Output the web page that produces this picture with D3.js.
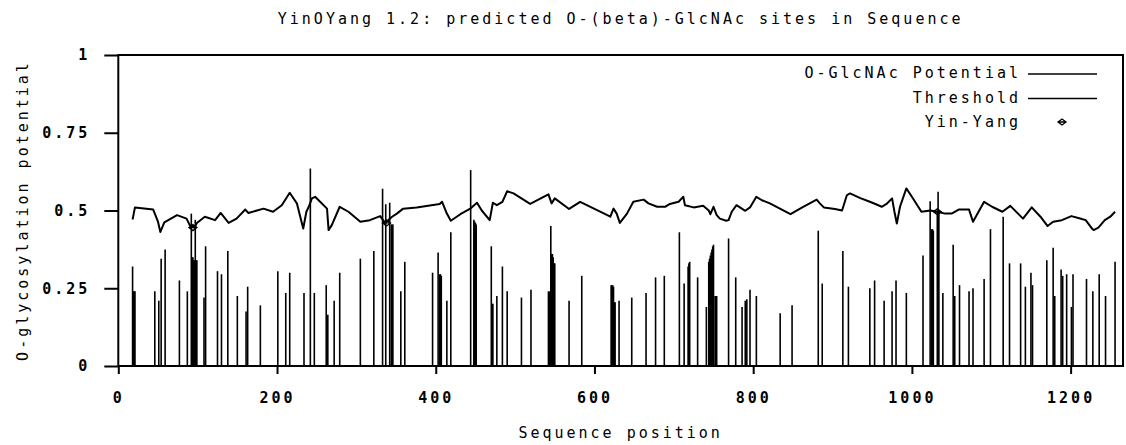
<!DOCTYPE html>
<html>
<head>
<meta charset="utf-8">
<script src="https://cdn.jsdelivr.net/npm/d3@7"></script>
<style>
  body { margin: 0; background: #fff; }
  svg { display: block; }
  text { font-family: "DejaVu Sans Mono", monospace; fill: #000; }
</style>
</head>
<body>
<svg id="chart"></svg>
<script>
// O-GlcNAc potential per site: [sequence position, potential]
const sites = [
  [18, 0.32], [19, 0.24], [20, 0.24], [21, 0.24], [46, 0.24], [51, 0.21], [54, 0.345], [59, 0.375],
  [77, 0.275], [87, 0.24], [92, 0.49], [93, 0.35], [94, 0.35], [95, 0.34], [96, 0.34], [97, 0.47],
  [98, 0.34], [99, 0.34], [108, 0.22], [110, 0.385], [125, 0.305], [130, 0.295], [138, 0.37],
  [150, 0.225], [161, 0.175], [163, 0.255], [179, 0.195], [201, 0.305], [211, 0.235], [216, 0.3],
  [234, 0.235], [242, 0.635], [247, 0.235], [262, 0.26], [264, 0.165], [272, 0.21], [279, 0.3],
  [305, 0.345], [322, 0.37], [333, 0.57], [337, 0.52], [342, 0.525], [344, 0.455], [345, 0.455],
  [346, 0.455], [356, 0.24], [361, 0.335], [396, 0.3], [403, 0.365], [405, 0.295], [406, 0.295],
  [407, 0.29], [414, 0.21], [419, 0.43], [444, 0.63], [448, 0.47], [449, 0.465], [450, 0.46],
  [451, 0.455], [470, 0.385], [471, 0.2], [472, 0.2], [477, 0.225], [484, 0.32], [490, 0.24],
  [508, 0.22], [520, 0.245], [542, 0.24], [543, 0.24], [545, 0.45], [546, 0.36], [547, 0.36],
  [548, 0.35], [549, 0.33], [550, 0.33], [568, 0.21], [584, 0.29], [621, 0.26], [622, 0.26],
  [623, 0.26], [624, 0.255], [625, 0.205], [626, 0.205], [631, 0.21], [647, 0.22], [665, 0.235],
  [677, 0.285], [688, 0.29], [707, 0.43], [713, 0.265], [718, 0.32], [719, 0.33], [720, 0.335],
  [730, 0.285], [741, 0.19], [744, 0.335], [745, 0.345], [746, 0.355], [747, 0.365], [748, 0.375],
  [749, 0.385], [750, 0.39], [752, 0.225], [753, 0.225], [754, 0.225], [769, 0.41], [778, 0.285],
  [786, 0.19], [790, 0.21], [792, 0.215], [796, 0.245], [804, 0.225], [834, 0.17], [849, 0.195],
  [882, 0.435], [887, 0.265], [913, 0.37], [920, 0.255], [947, 0.25], [953, 0.275], [965, 0.21],
  [975, 0.24], [980, 0.275], [993, 0.235], [1014, 0.355], [1023, 0.53], [1025, 0.44], [1026, 0.44],
  [1027, 0.435], [1032, 0.5], [1033, 0.56], [1034, 0.5], [1039, 0.235], [1052, 0.39], [1054, 0.225],
  [1060, 0.26], [1072, 0.24], [1077, 0.25], [1091, 0.28], [1099, 0.44], [1115, 0.48], [1123, 0.33],
  [1137, 0.33], [1143, 0.255], [1150, 0.3], [1152, 0.26], [1170, 0.34], [1178, 0.38], [1180, 0.225],
  [1188, 0.31], [1190, 0.29], [1195, 0.295], [1201, 0.19], [1203, 0.295], [1220, 0.28], [1228, 0.24],
  [1236, 0.295], [1244, 0.225], [1256, 0.335]
];

// threshold curve: [sequence position, threshold]
const threshold = [
  [18, 0.471], [21, 0.51], [44, 0.503], [50, 0.464], [53, 0.431], [58, 0.462], [74, 0.485], [86, 0.474],
  [90, 0.453], [96, 0.445], [99, 0.46], [109, 0.48], [122, 0.469], [129, 0.492], [139, 0.46], [149, 0.474],
  [160, 0.503], [164, 0.492], [183, 0.506], [195, 0.496], [206, 0.517], [216, 0.557], [225, 0.523],
  [233, 0.442], [237, 0.496], [240, 0.512], [244, 0.539], [248, 0.544], [263, 0.506], [265, 0.437],
  [269, 0.453], [279, 0.512], [290, 0.496], [305, 0.464], [317, 0.469], [330, 0.482], [336, 0.46],
  [345, 0.48], [351, 0.49], [359, 0.506], [376, 0.51], [405, 0.521], [408, 0.528], [414, 0.49],
  [419, 0.467], [431, 0.488], [443, 0.505], [452, 0.525], [458, 0.5], [468, 0.469], [472, 0.525],
  [477, 0.517], [484, 0.528], [490, 0.562], [498, 0.555], [519, 0.521], [542, 0.552], [546, 0.523],
  [550, 0.539], [568, 0.505], [582, 0.528], [620, 0.48], [624, 0.506], [628, 0.49], [632, 0.46],
  [641, 0.49], [649, 0.528], [662, 0.535], [668, 0.523], [679, 0.512], [689, 0.512], [695, 0.521],
  [706, 0.528], [712, 0.544], [714, 0.517], [725, 0.51], [737, 0.515], [744, 0.5], [746, 0.488],
  [750, 0.512], [754, 0.485], [758, 0.474], [766, 0.467], [769, 0.469], [773, 0.496], [779, 0.517],
  [790, 0.499], [796, 0.51], [804, 0.544], [811, 0.533], [821, 0.523], [847, 0.488], [863, 0.512],
  [880, 0.535], [884, 0.523], [889, 0.51], [903, 0.505], [912, 0.5], [918, 0.549], [922, 0.555],
  [935, 0.54], [947, 0.528], [954, 0.521], [962, 0.512], [968, 0.521], [975, 0.539], [978, 0.496],
  [981, 0.458], [985, 0.512], [993, 0.571], [1000, 0.544], [1012, 0.496], [1023, 0.5], [1032, 0.496],
  [1042, 0.49], [1050, 0.49], [1059, 0.503], [1072, 0.503], [1077, 0.464], [1091, 0.528], [1101, 0.512],
  [1114, 0.496], [1124, 0.515], [1140, 0.474], [1151, 0.51], [1162, 0.48], [1171, 0.45], [1178, 0.464],
  [1189, 0.469], [1201, 0.482], [1212, 0.474], [1219, 0.469], [1227, 0.442], [1229, 0.437], [1235, 0.445],
  [1243, 0.469], [1250, 0.48], [1256, 0.496]
];

// Yin-Yang sites: [sequence position, value]
const yinYang = [[94, 0.445], [338, 0.46], [1032, 0.496]];

const xTicks = [0, 200, 400, 600, 800, 1000, 1200];
const yTicks = [0, 0.25, 0.5, 0.75, 1];
const legendItems = ["O-GlcNAc Potential", "Threshold", "Yin-Yang"];

const width = 1126;
const height = 445;
const plot = { left: 118.3, right: 1123, top: 55, bottom: 366 };

const svg = d3.select("#chart").attr("width", width).attr("height", height);

const x = d3.scaleLinear().domain([0, 1266]).range([plot.left, plot.right]);
const y = d3.scaleLinear().domain([0, 1]).range([plot.bottom, plot.top]);

// bars
svg.append("g")
  .selectAll("line")
  .data(sites)
  .join("line")
  .attr("x1", (d) => x(d[0]))
  .attr("x2", (d) => x(d[0]))
  .attr("y1", y(0))
  .attr("y2", (d) => y(d[1]))
  .attr("stroke", "#000")
  .attr("stroke-width", 1.6);

// threshold
svg.append("path")
  .datum(threshold)
  .attr("fill", "none")
  .attr("stroke", "#000")
  .attr("stroke-width", 2)
  .attr("stroke-linejoin", "round")
  .attr("d", d3.line().x((d) => x(d[0])).y((d) => y(d[1])));

const marker = (g) => {
  g.append("path")
    .attr("d", "M-4,0L0,-3L4,0L0,3Z M-4,0H4")
    .attr("fill", "none")
    .attr("stroke", "#000")
    .attr("stroke-width", 1.3);
};

svg.append("g")
  .selectAll("g")
  .data(yinYang)
  .join("g")
  .attr("transform", (d) => `translate(${x(d[0])},${y(d[1])})`)
  .call(marker);

// axes
const yAxis = d3.axisLeft(y)
  .tickValues(yTicks)
  .tickFormat((d) => String(d))
  .tickSize(14)
  .tickSizeOuter(0)
  .tickPadding(14);

const xAxis = d3.axisBottom(x)
  .tickValues(xTicks)
  .tickFormat((d) => String(d))
  .tickSize(8)
  .tickSizeOuter(0)
  .tickPadding(18);

const gy = svg.append("g").attr("transform", `translate(${plot.left},0)`).call(yAxis);
const gx = svg.append("g").attr("transform", `translate(0,${plot.bottom})`).call(xAxis);

[gx, gy].forEach((g) => {
  g.select(".domain").remove();
  g.selectAll(".tick line").attr("stroke", "#000").attr("stroke-width", 2);
  g.selectAll(".tick text")
    .attr("font-family", "DejaVu Sans Mono")
    .attr("font-weight", "bold")
    .attr("font-size", 15)
    .attr("letter-spacing", 3)
    .attr("fill", "#000");
});

// frame
svg.append("rect")
  .attr("x", plot.left)
  .attr("y", plot.top)
  .attr("width", plot.right - plot.left)
  .attr("height", plot.bottom - plot.top)
  .attr("fill", "none")
  .attr("stroke", "#000")
  .attr("stroke-width", 2);

// titles
svg.append("text")
  .attr("x", (plot.left + plot.right) / 2)
  .attr("y", 24)
  .attr("text-anchor", "middle")
  .attr("font-size", 15)
  .attr("letter-spacing", 3)
  .text("YinOYang 1.2: predicted O-(beta)-GlcNAc sites in Sequence");

svg.append("text")
  .attr("x", (plot.left + plot.right) / 2)
  .attr("y", 438)
  .attr("text-anchor", "middle")
  .attr("font-size", 15)
  .attr("letter-spacing", 3)
  .text("Sequence position");

svg.append("text")
  .attr("transform", `translate(28,${(plot.top + plot.bottom) / 2}) rotate(-90)`)
  .attr("text-anchor", "middle")
  .attr("font-size", 15)
  .attr("letter-spacing", 3)
  .text("O-glycosylation potential");

// legend
const legend = svg.append("g");
legendItems.forEach((name, i) => {
  const ly = 73 + i * 24.5;
  legend.append("text")
    .attr("x", 1021)
    .attr("y", ly)
    .attr("dy", "0.35em")
    .attr("text-anchor", "end")
    .attr("font-size", 15)
    .attr("letter-spacing", 3)
    .text(name);
  if (i < 2) {
    legend.append("line")
      .attr("x1", 1028).attr("x2", 1097)
      .attr("y1", ly + 1).attr("y2", ly + 1)
      .attr("stroke", "#000")
      .attr("stroke-width", 1.5);
  } else {
    legend.append("g").attr("transform", `translate(1062,${ly})`).call(marker);
  }
});
</script>
</body>
</html>
